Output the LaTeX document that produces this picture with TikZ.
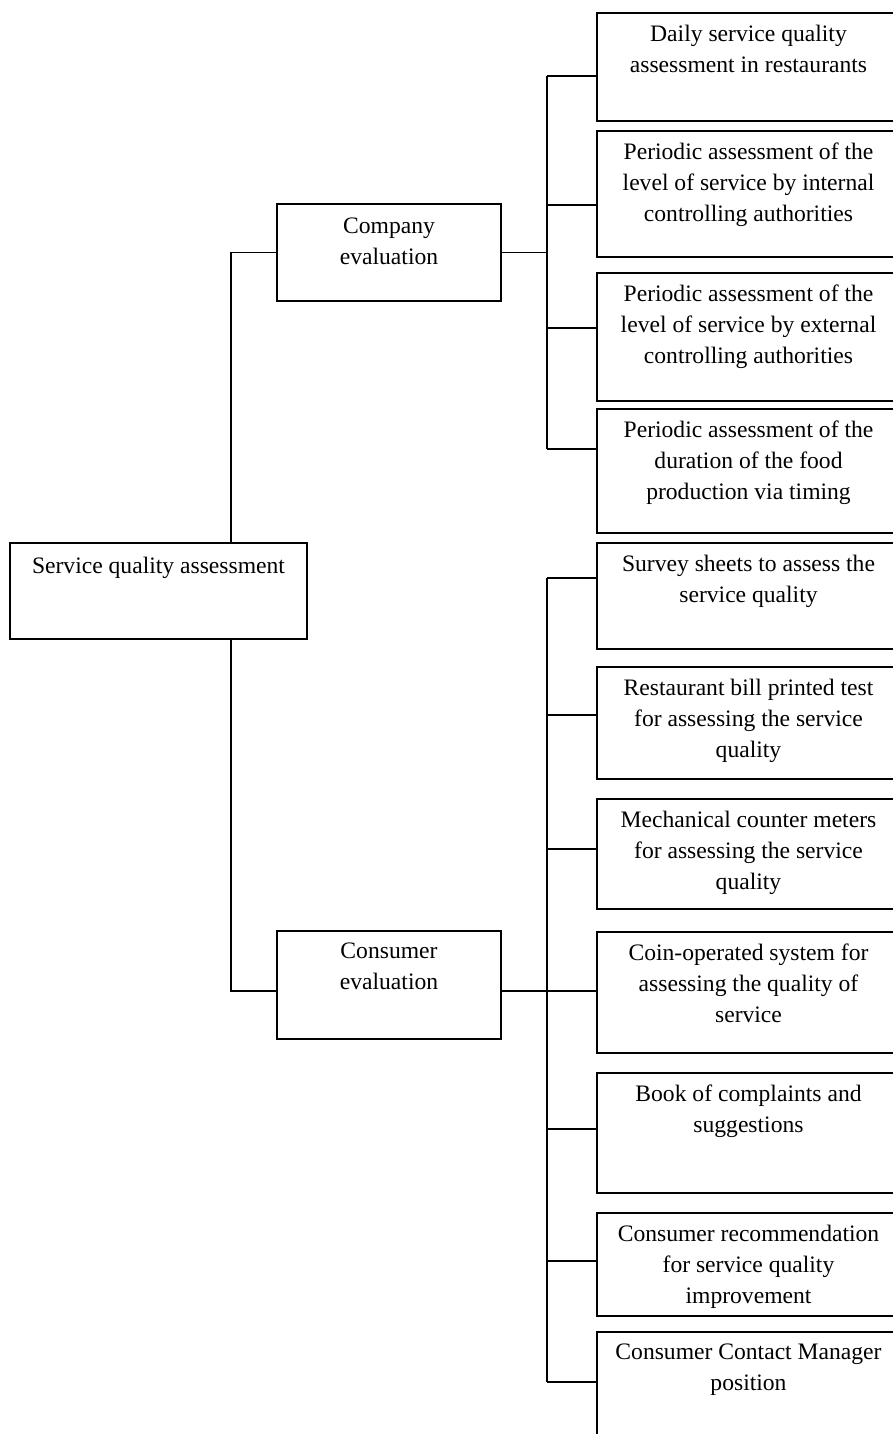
\documentclass[tikz,border=0pt]{standalone}
\usepackage{fontspec}
\setmainfont{Liberation Serif}
\usetikzlibrary{calc, positioning}

\tikzset{
	box/.style = {draw, inner sep = 0pt},
	rightbox/.style = {box, minimum width = 151.5pt},
	midbox/.style = {box, minimum width = 112pt},
	boxtext/.style = {inner sep = 0pt, align = center, font = \fontsize{11.8}{15.5}\selectfont}
}

\begin{document}
\begin{tikzpicture}[x = 0.5pt, y = -0.5pt, line width = 0.8pt]
		\useasboundingbox (0,0) rectangle (893,1434);
		\clip (0,0) rectangle (893,1434);
		
		\begin{scope}
			\node [box, minimum width = 148.5pt, minimum height = 48pt] (root) at (158.5,591) {};
			\node [midbox, minimum height = 48.5pt] (company) at (389,252.5) {};
			\node [midbox, minimum height = 54pt] (consumer) at (389,985) {};
		\end{scope}
		
		\begin{scope}
			\node [rightbox, minimum height = 54pt] (daily) at (748.5,67) {};
			\node [rightbox, minimum height = 63pt] (internal) at (748.5,194) {};
			\node [rightbox, minimum height = 64pt] (external) at (748.5,337) {};
			\node [rightbox, minimum height = 62pt] (timing) at (748.5,471) {};
			\node [rightbox, minimum height = 53pt] (survey) at (748.5,596) {};
			\node [rightbox, minimum height = 56pt] (bill) at (748.5,723) {};
			\node [rightbox, minimum height = 55pt] (counter) at (748.5,854) {};
			\node [rightbox, minimum height = 60.5pt] (coin) at (748.5,992.5) {};
			\node [rightbox, minimum height = 60pt] (complaints) at (748.5,1133) {};
			\node [rightbox, minimum height = 51.5pt] (recommend) at (748.5,1264.5) {};
			\node [rightbox, minimum height = 59pt] (manager) at (748.5,1391) {};
		\end{scope}
		
		\begin{scope}
			\node [boxtext, below = 7pt of root.north] (roottext) {Service quality assessment};
			\node [boxtext, below = 7pt of company.north] (companytext) {Company\\evaluation};
			\node [boxtext, below = 6pt of consumer.north] (consumertext) {Consumer\\evaluation};
		\end{scope}
		
		\begin{scope}
			\node [boxtext, below = 6pt of daily.north] (dailytext) {Daily service quality\\assessment in restaurants};
			\node [boxtext, below = 6pt of internal.north] (internaltext) {Periodic assessment of the\\level of service by internal\\controlling authorities};
			\node [boxtext, below = 6pt of external.north] (externaltext) {Periodic assessment of the\\level of service by external\\controlling authorities};
			\node [boxtext, below = 6pt of timing.north] (timingtext) {Periodic assessment of the\\duration of the food\\production via timing};
			\node [boxtext, below = 6pt of survey.north] (surveytext) {Survey sheets to assess the\\service quality};
			\node [boxtext, below = 6pt of bill.north] (billtext) {Restaurant bill printed test\\for assessing the service\\quality};
			\node [boxtext, below = 6pt of counter.north] (countertext) {Mechanical counter meters\\for assessing the service\\quality};
			\node [boxtext, below = 6pt of coin.north] (cointext) {Coin-operated system for\\assessing the quality of\\service};
			\node [boxtext, below = 6pt of complaints.north] (complaintstext) {Book of complaints and\\suggestions};
			\node [boxtext, below = 6pt of recommend.north] (recommendtext) {Consumer recommendation\\for service quality\\improvement};
			\node [boxtext, below = 6pt of manager.north] (managertext) {Consumer Contact Manager\\position};
		\end{scope}
		
		% joints on the two buses
		\begin{scope}
			\coordinate (k1) at (547,76);
			\coordinate (k2) at (547,205);
			\coordinate (k3) at (547,328);
			\coordinate (k4) at (547,449);
			\coordinate (k5) at (547,578);
			\coordinate (k6) at (547,715);
			\coordinate (k7) at (547,849);
			\coordinate (k8) at (547,991);
			\coordinate (k9) at (547,1129);
			\coordinate (k10) at (547,1261);
			\coordinate (k11) at (547,1382);
			\coordinate (roottop) at ($(root.north west)!0.742!(root.north east)$);
			\coordinate (rootbottom) at ($(root.south west)!0.742!(root.south east)$);
			\coordinate (consumerwest) at ($(consumer.north west)!0.555!(consumer.south west)$);
			\coordinate (consumereast) at ($(consumer.north east)!0.555!(consumer.south east)$);
		\end{scope}
		
		\begin{scope}
			\draw (roottop) |- (company.west);
			\draw (rootbottom) |- (consumerwest);
			\draw (company.east) -- (company.east -| k1);
			\draw (consumereast) -- (consumereast -| k8);
			\draw (k1) -- (k4);
			\draw (k5) -- (k11);
		\end{scope}
		
		\begin{scope}
			\draw (k1) -- (k1 -| daily.west);
			\draw (k2) -- (k2 -| internal.west);
			\draw (k3) -- (k3 -| external.west);
			\draw (k4) -- (k4 -| timing.west);
			\draw (k5) -- (k5 -| survey.west);
			\draw (k6) -- (k6 -| bill.west);
			\draw (k7) -- (k7 -| counter.west);
			\draw (k8) -- (k8 -| coin.west);
			\draw (k9) -- (k9 -| complaints.west);
			\draw (k10) -- (k10 -| recommend.west);
			\draw (k11) -- (k11 -| manager.west);
		\end{scope}
	\end{tikzpicture}
\end{document}
